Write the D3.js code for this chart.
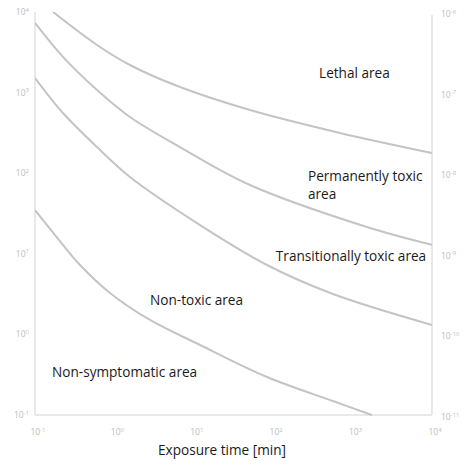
<!DOCTYPE html>
<html>
  <head>
    <script src="https://cdnjs.cloudflare.com/ajax/libs/d3/7.8.5/d3.min.js"></script>
    <style>
      body { margin: 0; background: #fff; }
      svg { font-family: "Open Sans", sans-serif; }
      path.boundary {
        fill: none;
        stroke: #c4c4c4;
        stroke-width: 2;
      }
      .axis-line { stroke: #e2e2e2; stroke-width: 1.5; }
      text.tick { fill: #bdbdbd; font-size: 8.5px; }
      text.area-label { fill: #1a1a1a; font-size: 13.6px; }
    </style>
  </head>
  <body>
    <svg width="466" height="461"></svg>
    <script>
      // exposure time [min] vs concentration
      var xTicks = [0.1, 1, 10, 100, 1000, 10000];
      var xTickExp = ["-1", "0", "1", "2", "3", "4"];
      var yTicks = [0.1, 1, 10, 100, 1000, 10000];
      var yTickExp = ["-1", "0", "1", "2", "3", "4"];
      var yRightTicks = [1e-11, 1e-10, 1e-9, 1e-8, 1e-7, 1e-6];
      var yRightExp = ["-11", "-10", "-9", "-8", "-7", "-6"];

      var lethalLine = [[0.169, 10000], [0.604, 3900], [1.57, 2200], [6.7, 1172], [51, 608], [693, 316], [10000, 178]];
      var permanentLine = [[0.1, 7310], [0.225, 2770], [0.604, 1076], [1.57, 498], [6.7, 211], [51, 71.4], [1517, 21.5], [10000, 12.9]];
      var transitionLine = [[0.1, 1517], [0.225, 558], [0.604, 211], [1.57, 89.7], [12.0, 22.7], [83.6, 7.26], [566, 3.17], [10000, 1.31]];
      var nonToxicLine = [[0.1, 34.9], [0.179, 17.1], [0.369, 7.26], [0.88, 3.27], [2.81, 1.51], [12.0, 0.739], [83.6, 0.296], [566, 0.149], [1754, 0.1]];

      var areaLabels = [
        { lines: ["Lethal area"], t: 378, c: 1517 },
        { lines: ["Permanently toxic", "area"], t: 274, c: 80 },
        { lines: ["Transitionally toxic area"], t: 108, c: 8.15 },
        { lines: ["Non-toxic area"], t: 2.81, c: 2.32 },
        { lines: ["Non-symptomatic area"], t: 0.164, c: 0.296 }
      ];

      var margin = { top: 12, right: 34, bottom: 46, left: 35 };
      var width = 466 - margin.left - margin.right;
      var height = 461 - margin.top - margin.bottom;

      var svg = d3.select("svg");
      var g = svg.append("g").attr("transform", "translate(" + margin.left + "," + margin.top + ")");

      var x = d3.scaleLog().domain([0.1, 10000]).range([0, width]);
      var y = d3.scaleLog().domain([0.1, 10000]).range([height, 0]);
      var yRight = d3.scaleLog().domain([1e-11, 1e-6]).range([height, 0]);

      g.append("clipPath").attr("id", "plot").append("rect")
        .attr("width", width).attr("height", height + 1);

      // axes lines
      g.append("line").attr("class", "axis-line").attr("x1", 0).attr("x2", 0).attr("y1", 0).attr("y2", height);
      g.append("line").attr("class", "axis-line").attr("x1", width).attr("x2", width).attr("y1", 3).attr("y2", height);
      g.append("line").attr("class", "axis-line").attr("x1", 0).attr("x2", width).attr("y1", height).attr("y2", height);

      function powLabel(sel, exp) {
        sel.append("tspan").text("10");
        sel.append("tspan").attr("dy", -3.5).attr("font-size", "6px").text(exp);
      }

      xTicks.forEach(function (v, i) {
        var t = g.append("text").attr("class", "tick")
          .attr("x", x(v) + 3).attr("y", height + 20).attr("text-anchor", "middle");
        powLabel(t, xTickExp[i]);
      });
      yTicks.forEach(function (v, i) {
        var t = g.append("text").attr("class", "tick")
          .attr("x", -6).attr("y", y(v) + 3).attr("text-anchor", "end");
        powLabel(t, yTickExp[i]);
      });
      yRightTicks.forEach(function (v, i) {
        var t = g.append("text").attr("class", "tick")
          .attr("x", width + 9).attr("y", yRight(v) + 5).attr("text-anchor", "start");
        powLabel(t, yRightExp[i]);
      });

      var line = d3.line()
        .x(function (d) { return x(d[0]); })
        .y(function (d) { return y(d[1]); })
        .curve(d3.curveCatmullRom.alpha(0.5));

      g.append("g").attr("clip-path", "url(#plot)")
        .selectAll("path")
        .data([lethalLine, permanentLine, transitionLine, nonToxicLine])
        .enter()
        .append("path")
        .attr("class", "boundary")
        .attr("d", line);

      areaLabels.forEach(function (d) {
        var t = g.append("text").attr("class", "area-label")
          .attr("x", x(d.t)).attr("y", y(d.c));
        d.lines.forEach(function (s, i) {
          t.append("tspan").attr("x", x(d.t)).attr("dy", i === 0 ? 0 : 18).text(s);
        });
      });

      g.append("text").attr("class", "area-label")
        .attr("x", 187).attr("y", height + 40)
        .attr("text-anchor", "middle")
        .text("Exposure time [min]");
    </script>
  </body>
</html>
